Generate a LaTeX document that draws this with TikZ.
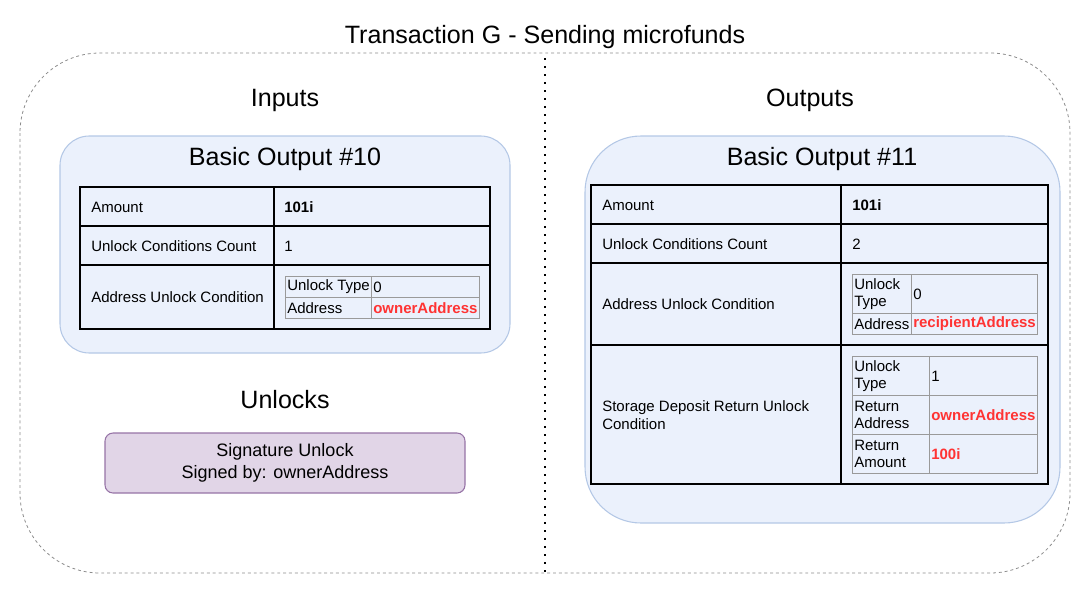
\documentclass[tikz,border=0pt]{standalone}
\usepackage{fontspec}
\setmainfont{Liberation Sans}
\definecolor{boxfill}{HTML}{EBF1FC}
\definecolor{boxline}{HTML}{B4C8E6}
\definecolor{sigfill}{HTML}{E1D5E7}
\definecolor{sigline}{HTML}{9673A6}
\definecolor{redtxt}{HTML}{FF3333}
\definecolor{outerline}{HTML}{8C8C8C}
\definecolor{innerline}{HTML}{9A9A9A}
\tikzset{
  px/.style={x=0.75pt,y=-0.75pt},
  heading/.style={font=\fontsize{18.8}{22}\selectfont, inner sep=0pt},
  celltxt/.style={font=\fontsize{11.25}{13.2}\selectfont, inner sep=0pt, anchor=west, align=left},
  redval/.style={celltxt, text=redtxt, font=\fontsize{11.25}{13.2}\selectfont\bfseries},
  bluebox/.style={draw=boxline, fill=boxfill, line width=0.8pt},
  outerbox/.style={draw=outerline, dash pattern=on 2.2pt off 2.2pt, line width=0.6pt},
  tabline/.style={draw=black, line width=0.8pt},
  innertab/.style={draw=innerline, line width=0.75pt},
}
\begin{document}
\begin{tikzpicture}[px]
\useasboundingbox (0,0) rectangle (1091,596);
% outer frame
\draw[outerbox, rounded corners=60pt] (20,53) rectangle (1070,573);
\draw[line width=1.2pt, dash pattern=on 1.2pt off 4.8pt] (545,58) coordinate (dtop) -- (545,573) coordinate (dbot);
\node[heading] (title) at (545,37) {Transaction G - Sending microfunds};
\node[heading] (inputs) at (285,100) {Inputs};
\node[heading] (outputs) at (810,100) {Outputs};

% ---------- left: Basic Output #10 ----------
\draw[bluebox, rounded corners=22pt] (60,136) rectangle (510,353);
\node[heading] (bo10) at (285,159) {Basic Output \#10};
\draw[tabline] (80,187) rectangle (490,329);
\draw[tabline] (274,187) -- (274,329);
\draw[tabline] (80,226) -- (490,226);
\draw[tabline] (80,265) -- (490,265);
\node[celltxt] (la1) at (91,207) {Amount};
\node[celltxt, font=\fontsize{11.25}{13.2}\selectfont\bfseries] (lv1) at (284,207) {101i};
\node[celltxt] (la2) at (91,246) {Unlock Conditions Count};
\node[celltxt] (lv2) at (284,246) {1};
\node[celltxt] (la3) at (91,297) {Address Unlock Condition};
\draw[innertab] (285,276) rectangle (479,318);
\draw[innertab] (371,276) -- (371,318);
\draw[innertab] (285,297) -- (479,297);
\node[celltxt] (li1) at (287,287) {Unlock Type};
\node[celltxt] (li1v) at (373,287) {0};
\node[celltxt] (li2) at (287,308) {Address};
\node[redval] (li2v) at (373,308) {ownerAddress};

% ---------- left: Unlocks ----------
\node[heading] (unlocks) at (285,400) {Unlocks};
\draw[draw=sigline, fill=sigfill, line width=0.8pt, rounded corners=6pt] (105,433) rectangle (465,493);
\node[font=\fontsize{13.5}{16.5}\selectfont, align=center, inner sep=0pt] (sig) at (285,463) {Signature Unlock\\Signed by: ownerAddress};

% ---------- right: Basic Output #11 ----------
\draw[bluebox, rounded corners=42pt] (585,136) rectangle (1060,523);
\node[heading] (bo11) at (822,159) {Basic Output \#11};
\draw[tabline] (591,185) rectangle (1048,484);
\draw[tabline] (841,185) -- (841,484);
\draw[tabline] (591,224) -- (1048,224);
\draw[tabline] (591,263) -- (1048,263);
\draw[tabline] (591,345) -- (1048,345);
\node[celltxt] (ra1) at (602,205) {Amount};
\node[celltxt, font=\fontsize{11.25}{13.2}\selectfont\bfseries] (rv1) at (852,205) {101i};
\node[celltxt] (ra2) at (602,244) {Unlock Conditions Count};
\node[celltxt] (rv2) at (852,244) {2};
\node[celltxt] (ra3) at (602,304) {Address Unlock Condition};
\node[celltxt] (ra4) at (602,415) {Storage Deposit Return Unlock\\Condition};
% inner table 1
\draw[innertab] (852,274) rectangle (1037,334);
\draw[innertab] (911,274) -- (911,334);
\draw[innertab] (852,313) -- (1037,313);
\node[celltxt] (ri1) at (854,294) {Unlock\\Type};
\node[celltxt] (ri1v) at (913,294) {0};
\node[celltxt] (ri2) at (854,324) {Address};
\node[redval] (ri2v) at (913,324) {recipientAddress};
% inner table 2
\draw[innertab] (852,356) rectangle (1037,473);
\draw[innertab] (929,356) -- (929,473);
\draw[innertab] (852,395) -- (1037,395);
\draw[innertab] (852,434) -- (1037,434);
\node[celltxt] (rj1) at (854,376) {Unlock\\Type};
\node[celltxt] (rj1v) at (931,376) {1};
\node[celltxt] (rj2) at (854,415) {Return\\Address};
\node[redval] (rj2v) at (931,415) {ownerAddress};
\node[celltxt] (rj3) at (854,454) {Return\\Amount};
\node[redval] (rj3v) at (931,454) {100i};
\end{tikzpicture}
\end{document}
